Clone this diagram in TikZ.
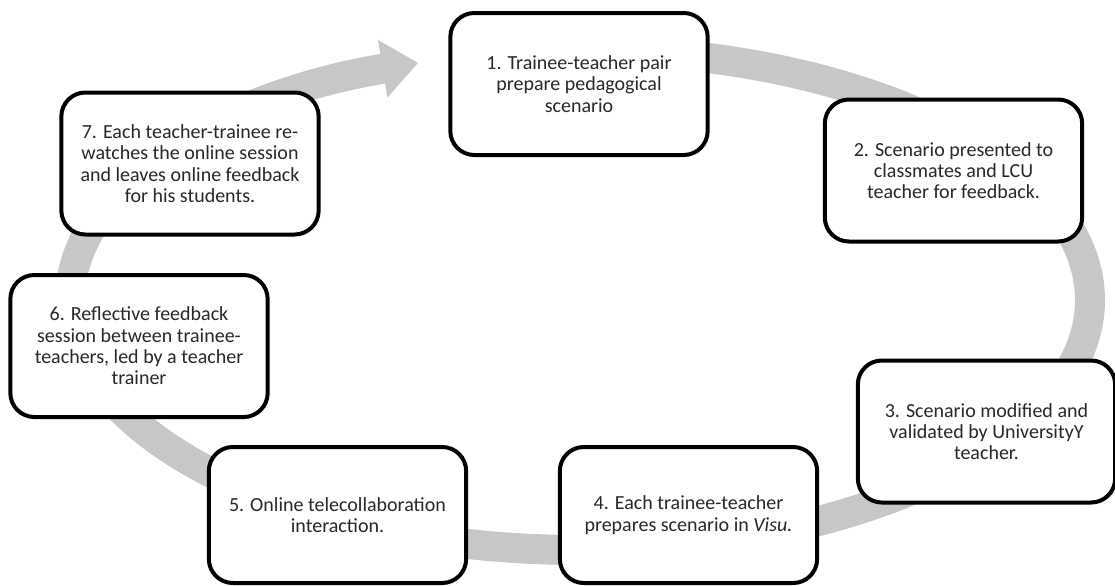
\documentclass[tikz,border=0pt]{standalone}
\usepackage{fontspec}
\setmainfont{Carlito}
\usepackage{xcolor}
\usepackage{tikz}
\usetikzlibrary{arrows.meta}

\definecolor{ringgray}{RGB}{199,199,199}
\definecolor{boxtext}{RGB}{40,40,40}

\begin{document}
\begin{tikzpicture}[x=0.75pt, y=-0.75pt,
    stepbox/.style={draw, line width=3pt, rounded corners=18pt, fill=white,
        text=boxtext, align=center, minimum width=193pt, minimum height=106.5pt,
        font=\fontsize{15}{16}\selectfont},
    ring/.style={draw=ringgray, line width=22.5pt,
        -{Triangle[width=42pt, length=27pt, fill=ringgray]}}]
    \useasboundingbox (0,0) rectangle (1115,586);

    % the grey cycle arrow
    \draw[ring] (580,300) ++(-92:510 and 250)
        arc[start angle=-92, end angle=251.5, x radius=510, y radius=250];

    \node[stepbox] (s1) at (579,84) {1. Trainee-teacher pair\\prepare pedagogical\\scenario};
    \node[stepbox] (s2) at (953.5,170.5) {2. Scenario presented to\\classmates and LCU\\teacher for feedback.};
    \node[stepbox] (s3) at (986.5,431.5) {3. Scenario modified and\\validated by UniversityY\\teacher.};
    \node[stepbox, minimum height=102pt] (s4) at (688.5,515) {4. Each trainee-teacher\\prepares scenario in \textit{Visu.}};
    \node[stepbox, minimum height=102pt] (s5) at (337.5,515) {5. Online telecollaboration\\interaction.};
    \node[stepbox] (s6) at (139,346) {6. Reflective feedback\\session between trainee-\\teachers, led by a teacher\\trainer};
    \node[stepbox] (s7) at (190,163.5) {7. Each teacher-trainee re-\\watches the online session\\and leaves online feedback\\for his students.};

\end{tikzpicture}
\end{document}
